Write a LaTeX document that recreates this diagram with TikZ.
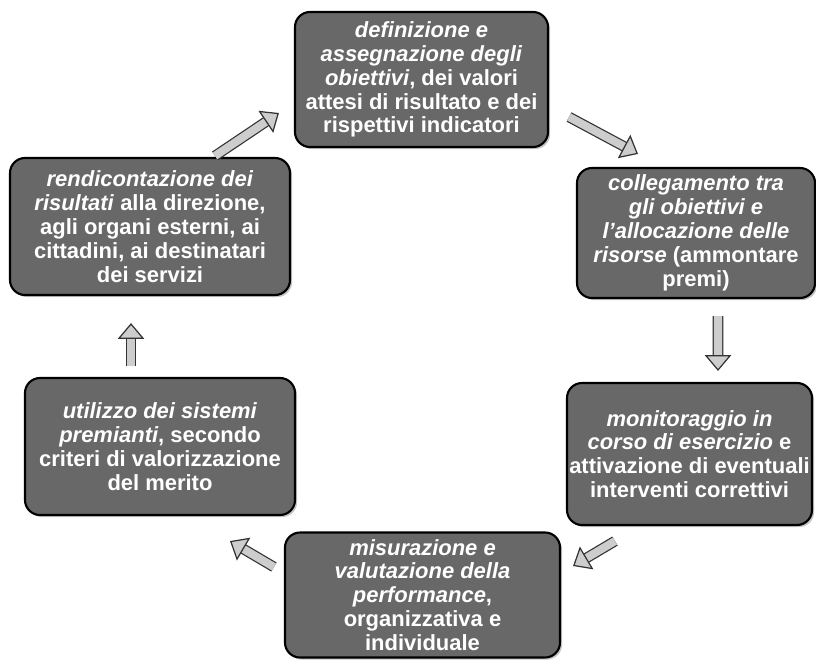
\documentclass[tikz,border=0pt]{standalone}
\usepackage{fontspec}
\setmainfont{Liberation Sans}
\usepackage{tikz}
\usetikzlibrary{arrows.meta,calc,shadows}
\definecolor{boxgray}{RGB}{104,104,104}
\definecolor{arrowgray}{RGB}{205,205,205}

\begin{document}
\begin{tikzpicture}[
	phase/.style={draw=black, line width=1.2pt, fill=boxgray, rounded corners=0.3cm, text=white, align=center, inner sep=0pt,
		font=\fontsize{12.5}{13.6}\selectfont\bfseries,
		drop shadow={shadow xshift=1.2pt, shadow yshift=-1.2pt, fill=black!45}},
	flow/.style={draw=black!80, line width=0.7pt, double=arrowgray, double distance=4.6pt,
		-{Triangle[length=9pt, width=15pt, fill=arrowgray, line width=0.7pt]}}
	]
						\useasboundingbox (0,0) rectangle (16.32,13.18);
						\node [phase, minimum width=5.06cm, minimum height=2.70cm] (def) at (8.43,11.59) {\textit{definizione e}\\ \textit{assegnazione degli}\\ \textit{obiettivi}, dei valori\\ attesi di risultato e dei\\ rispettivi indicatori};
						\node [phase, minimum width=4.76cm, minimum height=2.60cm] (collega) at (13.92,8.52) {\textit{collegamento tra}\\ \textit{gli obiettivi e}\\ \textit{l'allocazione delle}\\ \textit{risorse} (ammontare\\ premi)};
						\node [phase, minimum width=4.90cm, minimum height=2.84cm] (monit) at (13.79,4.10) {\textit{monitoraggio in}\\ \textit{corso di esercizio} e\\ attivazione di eventuali\\ interventi correttivi};
						\node [phase, minimum width=5.50cm, minimum height=2.50cm] (misura) at (8.45,1.28) {\textit{misurazione e}\\ \textit{valutazione della}\\ \textit{performance},\\ organizzativa e\\ individuale};
						\node [phase, minimum width=5.40cm, minimum height=2.74cm] (utilizzo) at (3.20,4.25) {\textit{utilizzo dei sistemi}\\ \textit{premianti}, secondo\\ criteri di valorizzazione\\ del merito};
						\node [phase, minimum width=5.60cm, minimum height=2.74cm] (rendic) at (3.00,8.65) {\textit{rendicontazione dei}\\ \textit{risultati} alla direzione,\\ agli organi esterni, ai\\ cittadini, ai destinatari\\ dei servizi};
						\draw [flow] ($(rendic.north)+(1.30,0.02)$) -- ($(def.west)+(-0.30,-0.67)$);
						\draw [flow] ($(def.east)+(0.40,-0.75)$) -- ($(collega.north)+(-1.16,0.26)$);
						\draw [flow] ($(collega.south)+(0.44,-0.34)$) -- ($(monit.north)+(0.57,0.22)$);
						\draw [flow] ($(monit.south)+(-1.49,-0.30)$) -- ($(misura.east)+(0.24,0.58)$);
						\draw [flow] ($(misura.west)+(-0.20,0.56)$) -- ($(utilizzo.south)+(1.40,-0.50)$);
						\draw [flow] ($(utilizzo.north)+(-0.58,0.22)$) -- ($(rendic.south)+(-0.38,-0.54)$);
					\end{tikzpicture}
\end{document}
